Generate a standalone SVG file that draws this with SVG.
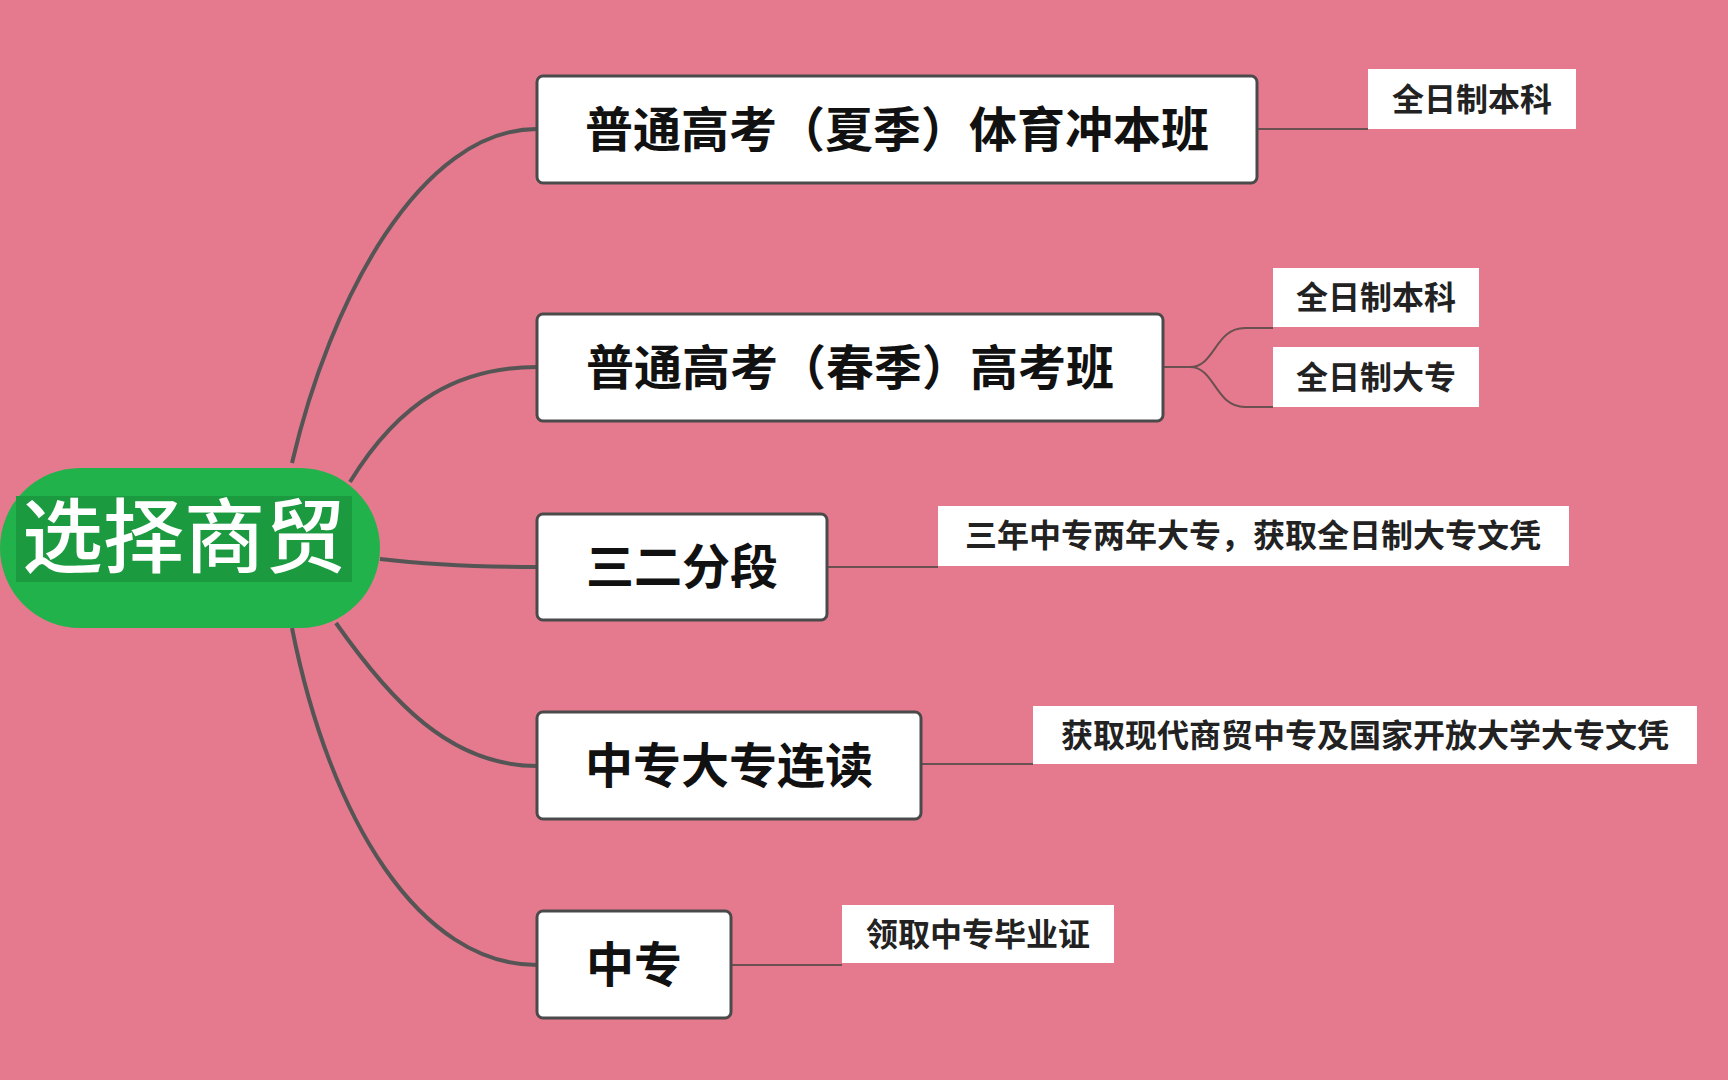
<svg xmlns="http://www.w3.org/2000/svg" width="1728" height="1080" viewBox="0 0 1728 1080">
<style>
.n{fill:#fff;stroke:#4a4a4a;stroke-width:3}
.nt{font-family:"Noto Sans CJK SC",sans-serif;font-weight:bold;font-size:48px;fill:#111}
.l{fill:#fff}
.lt{font-family:"Noto Sans CJK SC",sans-serif;font-weight:bold;font-size:32px;fill:#222}
.c{fill:none;stroke:#555;stroke-width:4}
.c2{fill:none;stroke:#6a5050;stroke-width:2}
</style>
<rect width="1728" height="1080" fill="#E57A8E"/>
<g id="connectors">
<path class="c" d="M292,463 C330,300 420,129 537,129"/>
<path class="c" d="M350,482 C400,400 460,367 537,367"/>
<path class="c" d="M380,559 C430,565 480,567 537,567"/>
<path class="c" d="M336,623 C390,700 450,766 537,766"/>
<path class="c" d="M292,628 C330,820 420,965 537,965"/>
<path class="c2" d="M1257,129 H1368"/>
<path class="c2" d="M1163,367 H1190 C1215,367 1215,328 1245,328 H1273"/>
<path class="c2" d="M1190,367 C1215,367 1215,407 1245,407 H1273"/>
<path class="c2" d="M827,567 H938"/>
<path class="c2" d="M921,764 H1033"/>
<path class="c2" d="M731,965 H842"/>
</g>
<g id="root">
<rect x="0" y="468" width="380" height="160" rx="80" fill="#22B24C"/>
<rect x="16" y="496" width="336" height="86" fill="#1B9A3F"/>
<text x="184" y="566" text-anchor="middle" font-family="Noto Sans CJK SC,sans-serif" font-weight="500" font-size="81" fill="#fff">选择商贸</text>
</g>
<g id="n1"><rect class="n" x="537" y="76" width="720" height="107" rx="6"/><text class="nt" x="897" y="147" text-anchor="middle">普通高考（夏季）体育冲本班</text></g>
<g id="n2"><rect class="n" x="537" y="314" width="626" height="107" rx="6"/><text class="nt" x="850" y="385" text-anchor="middle">普通高考（春季）高考班</text></g>
<g id="n3"><rect class="n" x="537" y="514" width="290" height="106" rx="6"/><text class="nt" x="682" y="584" text-anchor="middle">三二分段</text></g>
<g id="n4"><rect class="n" x="537" y="712" width="384" height="107" rx="6"/><text class="nt" x="729" y="783" text-anchor="middle">中专大专连读</text></g>
<g id="n5"><rect class="n" x="537" y="911" width="194" height="107" rx="6"/><text class="nt" x="634" y="982" text-anchor="middle">中专</text></g>
<g id="la"><rect class="l" x="1368" y="69" width="208" height="60"/><text class="lt" x="1472" y="111" text-anchor="middle">全日制本科</text></g>
<g id="lb"><rect class="l" x="1273" y="268" width="206" height="59"/><text class="lt" x="1376" y="309" text-anchor="middle">全日制本科</text></g>
<g id="lc"><rect class="l" x="1273" y="347" width="206" height="60"/><text class="lt" x="1376" y="389" text-anchor="middle">全日制大专</text></g>
<g id="ld"><rect class="l" x="938" y="506" width="631" height="60"/><text class="lt" x="1253" y="547" text-anchor="middle">三年中专两年大专，获取全日制大专文凭</text></g>
<g id="le"><rect class="l" x="1033" y="706" width="664" height="58"/><text class="lt" x="1365" y="747" text-anchor="middle">获取现代商贸中专及国家开放大学大专文凭</text></g>
<g id="lf"><rect class="l" x="842" y="905" width="272" height="58"/><text class="lt" x="978" y="946" text-anchor="middle">领取中专毕业证</text></g>
</svg>
